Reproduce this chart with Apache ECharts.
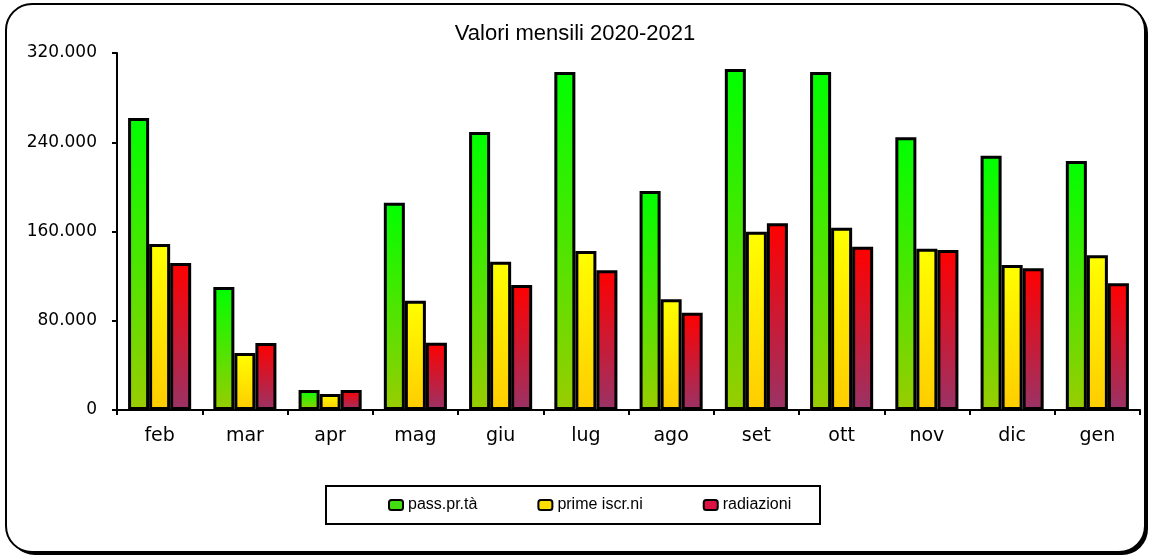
<!DOCTYPE html>
<html>
<head>
<meta charset="utf-8">
<script src="https://cdn.jsdelivr.net/npm/echarts@6/dist/echarts.min.js"></script>
<style>
  html, body { margin: 0; padding: 0; background: #fff; }
  #chart { width: 1150px; height: 557px; }
</style>
</head>
<body>
<div id="chart"></div>
<script>
// dati
var mesi = ['feb', 'mar', 'apr', 'mag', 'giu', 'lug', 'ago', 'set', 'ott', 'nov', 'dic', 'gen'];
var passaggi = [261700, 110300, 17900, 185800, 249200, 303000, 196300, 305700, 303000, 244400, 228000, 223200];
var primeIscr = [148800, 51100, 14300, 98000, 132900, 142500, 99200, 159800, 163400, 144600, 130000, 138700];
var radiazioni = [131800, 60000, 18000, 60300, 112000, 125200, 87200, 167400, 146400, 143400, 127000, 113600];
var nomiSerie = ['pass.pr.tà', 'prime iscr.ni', 'radiazioni'];
var yTicks = [0, 80000, 160000, 240000, 320000];

var chart = echarts.init(document.getElementById('chart'));

function grad(top, bottom) {
    return new echarts.graphic.LinearGradient(0, 0, 0, 1, [
        { offset: 0, color: top },
        { offset: 1, color: bottom }
    ]);
}

function fmt(v) {
    // separatore migliaia all'italiana
    return String(v).replace(/\B(?=(\d{3})+(?!\d))/g, '.');
}

var colori = [
    grad('#00ff00', '#99cc00'),
    grad('#ffff00', '#ffcc00'),
    grad('#ff0000', '#993366')
];
var coloriLegenda = ['#44dd11', '#ffdd00', '#dd1144'];
var valori = [passaggi, primeIscr, radiazioni];

var series = [];
for (var i = 0; i < nomiSerie.length; i++) {
    series.push({
        name: nomiSerie[i],
        type: 'bar',
        data: valori[i],
        barGap: '0%',
        barCategoryGap: '26%',
        itemStyle: {
            color: colori[i],
            borderColor: '#000',
            borderWidth: 3
        }
    });
}

var option = {
    animation: false,
    backgroundColor: 'transparent',
    graphic: [
        {
            // ombra della cornice
            type: 'rect',
            z: -11,
            shape: { x: 9, y: 7, width: 1139, height: 548, r: 26 },
            style: { fill: '#000' }
        },
        {
            type: 'rect',
            z: -10,
            shape: { x: 6, y: 4, width: 1139, height: 548, r: 26 },
            style: { fill: '#fff', stroke: '#000', lineWidth: 2 }
        },
        {
            type: 'rect',
            z: 1,
            shape: { x: 326, y: 486, width: 494, height: 38 },
            style: { fill: '#fff', stroke: '#000', lineWidth: 2 }
        }
    ],
    title: {
        text: 'Valori mensili 2020-2021',
        left: 'center',
        top: 18,
        textStyle: {
            fontFamily: 'Liberation Sans',
            fontSize: 22,
            fontWeight: 'normal',
            color: '#000'
        }
    },
    legend: {
        data: nomiSerie.map(function (n, k) {
            return { name: n, itemStyle: { color: coloriLegenda[k], borderColor: '#000', borderWidth: 2 } };
        }),
        left: 388,
        top: 497,
        padding: 0,
        z: 5,
        itemGap: 60,
        itemWidth: 14,
        itemHeight: 10,
        itemTextGap: 4,
        icon: 'roundRect',
        textStyle: {
            fontFamily: 'Liberation Sans',
            fontSize: 16,
            color: '#000'
        }
    },
    grid: {
        left: 117,
        right: 10,
        top: 53,
        bottom: 147,
        containLabel: false
    },
    xAxis: {
        type: 'category',
        data: mesi,
        axisLine: { lineStyle: { color: '#000', width: 2 } },
        axisTick: { show: true, length: 5, lineStyle: { color: '#000', width: 2 } },
        axisLabel: {
            margin: 17,
            fontFamily: 'DejaVu Sans',
            fontSize: 19,
            color: '#000'
        },
        splitLine: { show: false }
    },
    yAxis: {
        type: 'value',
        min: yTicks[0],
        max: yTicks[yTicks.length - 1],
        interval: yTicks[1] - yTicks[0],
        axisLine: { show: true, lineStyle: { color: '#000', width: 2 } },
        axisTick: { show: true, length: 5, lineStyle: { color: '#000', width: 2 } },
        axisLabel: {
            margin: 20,
            fontFamily: 'DejaVu Sans',
            fontSize: 17,
            color: '#000',
            formatter: fmt
        },
        splitLine: { show: false }
    },
    series: series
};

chart.setOption(option);
</script>
</body>
</html>
